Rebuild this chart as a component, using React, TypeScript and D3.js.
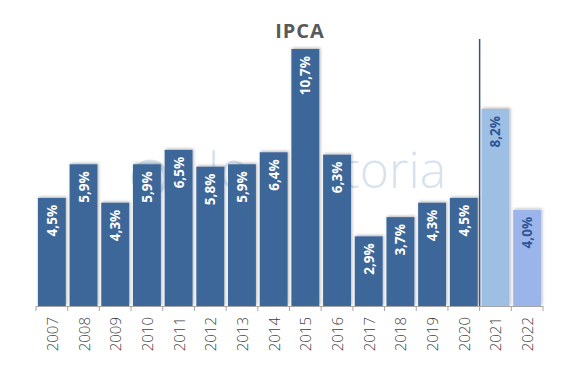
import React from 'react'
import * as d3 from 'd3'

const years = ['2007', '2008', '2009', '2010', '2011', '2012', '2013', '2014', '2015', '2016', '2017', '2018', '2019', '2020', '2021', '2022']
const ipca = [4.5, 5.9, 4.3, 5.9, 6.5, 5.8, 5.9, 6.4, 10.7, 6.3, 2.9, 3.7, 4.3, 4.5, 8.2, 4.0]
const projected = ['2021', '2022']

const W = 588
const H = 374

export default function App() {
  const x = d3.scaleBand<string>().domain(years).range([36, 543]).paddingInner(0.12).paddingOuter(0.06)
  const y = d3.scaleLinear().domain([0, 10.7]).range([306, 49])
  const gap = x.step() - x.bandwidth()
  const splitX = (x('2021') as number) - gap / 2
  const fillFor = (yr: string) => (yr === '2021' ? '#9dbfe4' : yr === '2022' ? '#9bb5ea' : '#3d6699')
  const labelFill = (yr: string) => (projected.includes(yr) ? '#2f5597' : '#ffffff')
  const bounds = years.map(yr => (x(yr) as number) - gap / 2).concat([(x('2022') as number) + x.bandwidth() + gap / 2])

  return (
    <svg width={W} height={H} style={{position: 'absolute', left: 0, top: 0}}>
      <defs>
        <filter id="sh" x="-20%" y="-10%" width="140%" height="120%">
          <feDropShadow dx="1" dy="-1" stdDeviation="1.5" floodColor="#000" floodOpacity="0.3" />
        </filter>
      </defs>
      <rect width={W} height={H} fill="#fff" />

      {/* watermark */}
      <g fill="#d6e3ee" fontFamily="'Open Sans', sans-serif" fontWeight={300}>
        <circle cx={150} cy={178} r={16} fill="none" stroke="#d6e3ee" strokeWidth={5} />
        <text x={208} y={188} fontSize={50}>lo</text>
        <text x={343} y={188} fontSize={50}>toria</text>
      </g>

      <text x={300} y={38} textAnchor="middle" fontFamily="'Open Sans', sans-serif" fontWeight={700}
        fontSize={20} letterSpacing={1} fill="#595959">IPCA</text>

      {years.map((yr, i) => (
        <rect key={yr} x={x(yr)} y={y(ipca[i])} width={x.bandwidth()} height={y(0) - y(ipca[i])}
          fill={fillFor(yr)} filter="url(#sh)" />
      ))}

      <line x1={splitX} x2={splitX} y1={39} y2={306} stroke="#3a5479" strokeWidth={1.5} />

      {years.map((yr, i) => {
        const cx = (x(yr) as number) + x.bandwidth() / 2
        const ty = y(ipca[i]) + 7
        return (
          <text key={yr} transform={`translate(${cx},${ty}) rotate(-90)`} textAnchor="end" dominantBaseline="central"
            fontFamily="'Open Sans', sans-serif" fontWeight={700} fontSize={13.5} fill={labelFill(yr)}>
            {ipca[i].toFixed(1).replace('.', ',')}%
          </text>
        )
      })}

      <line x1={36} x2={543} y1={306.5} y2={306.5} stroke="#a6a6a6" strokeWidth={1} />
      {bounds.map((bx, i) => (
        <line key={i} x1={bx} x2={bx} y1={306} y2={311} stroke="#a6a6a6" strokeWidth={1} />
      ))}
      {years.map(yr => {
        const cx = (x(yr) as number) + x.bandwidth() / 2
        return (
          <text key={yr} transform={`translate(${cx},317) rotate(-90)`} textAnchor="end" dominantBaseline="central"
            fontFamily="'Open Sans', sans-serif" fontWeight={300} fontSize={15} fill="#404040">
            {yr}
          </text>
        )
      })}
    </svg>
  )
}
